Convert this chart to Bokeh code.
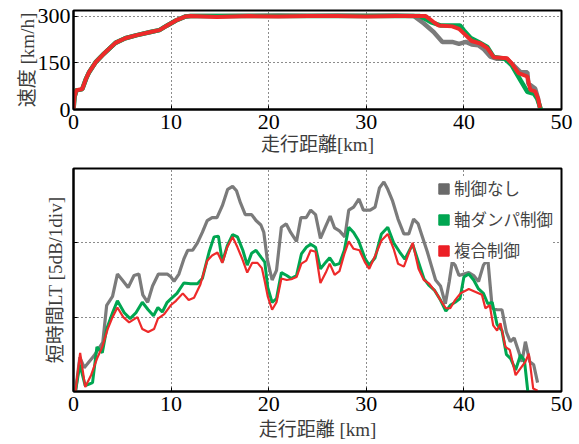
from bokeh.plotting import figure
from bokeh.layouts import column
from bokeh.models import FixedTicker, Legend, LegendItem, Range1d
from bokeh.embed import file_html
from bokeh.resources import INLINE

# ---------------- data: speed [km/h] vs distance [km] ----------------
spd_gray_km = [0, 0.1, 0.3, 0.9, 1.3, 1.6, 2.3, 3.1, 4.3, 5.3, 6.5, 7.9, 8.8, 9.6, 10.5, 11.5, 12.0,
               15, 18, 21, 24, 27, 30, 33, 34.9, 35.9, 36.9, 37.8, 38.8, 39.5, 40.2, 40.8, 41.5,
               42.0, 42.7, 43.4, 44.4, 44.9, 45.8, 46.5, 46.6, 47.3, 47.6, 47.8]
spd_gray = [0, 40, 62, 66, 100, 120, 153, 179, 214, 229, 239, 249, 255, 270, 286, 299, 300,
            300, 301, 302, 301, 302, 301, 302, 300, 276, 249, 217, 217, 211, 217, 209, 206,
            195, 170, 163, 163, 147, 120, 120, 83, 67, 35, 3]

spd_green_km = [0, 0.1, 0.3, 0.9, 1.3, 1.6, 2.3, 3.1, 4.3, 5.3, 6.5, 7.9, 8.8, 9.6, 10.5, 11.5, 12.0,
                15, 18, 21, 24, 27, 30, 33, 35.5, 36.6, 37.6, 39.6, 40.0, 40.7, 41.5, 42.4, 43.05,
                44.2, 44.9, 45.8, 46.5, 47.2, 47.5, 47.9]
spd_green = [0, 40, 62, 66, 100, 120, 153, 179, 214, 229, 239, 249, 255, 270, 286, 299, 300,
             300, 300, 300, 300, 300, 300, 300, 300, 281, 270, 270, 254, 230, 217, 201, 169,
             163, 142, 94, 57, 50, 35, 0]

spd_red_km = [0, 0.1, 0.3, 0.9, 1.3, 1.6, 2.3, 3.1, 4.3, 5.3, 6.5, 7.9, 8.8, 9.6, 10.5, 11.5, 12.0,
              14.7, 18, 21, 24, 27, 30, 33, 36.1, 36.9, 37.4, 38.8, 39.5, 40.2, 40.8, 41.7, 42.4,
              43.05, 44.4, 44.9, 45.6, 46.5, 46.8, 47.3, 47.6, 47.8]
spd_red = [0, 40, 62, 66, 100, 120, 153, 179, 214, 229, 239, 249, 255, 270, 286, 299, 300,
           297, 300, 299, 300, 300, 299, 300, 300, 281, 270, 267, 259, 238, 220, 212, 197,
           168, 165, 148, 117, 106, 63, 58, 35, 5]

# ---------------- data: short-time LT [dB] vs distance [km] ----------------
lt_gray_km = [0.2, 0.65, 1.1, 2.1, 3.0, 3.4, 4.0, 4.5, 5.0, 5.6, 6.2, 6.7, 7.1, 7.6, 8.1, 8.7, 9.6,
              10.0, 10.3, 10.8, 11.3, 11.7, 12.2, 12.7, 13.2, 13.7, 14.2, 14.7, 15.25, 15.8, 16.3,
              16.7, 17.1, 17.6, 18.25, 18.7, 19.2, 19.5, 19.85, 20.35, 20.8, 21.3, 21.8, 22.25,
              22.85, 23.3, 23.85, 24.3, 24.8, 25.3, 25.8, 26.3, 26.75, 27.25, 27.8, 28.2, 28.7,
              29.25, 29.7, 30.4, 30.9, 31.35, 31.8, 32.2, 32.7, 33.25, 33.85, 34.35, 34.85, 35.3,
              35.7, 36.25, 36.65, 37.1, 37.6, 38.1, 38.5, 38.8, 39.1, 39.5, 40.0, 40.5, 41.0,
              41.5, 42.0, 42.45, 42.9, 43.4, 43.9, 44.35, 44.75, 45.15, 45.6, 45.95, 46.3, 46.75,
              47.15, 47.55]
lt_gray = [0, 2.3, 1.6, 2.4, 3.3, 5.8, 6.4, 7.9, 7.5, 7.0, 7.8, 7.9, 6.5, 6.0, 7.1, 7.9, 7.9,
           7.7, 7.4, 7.9, 8.9, 9.5, 9.5, 10.0, 10.7, 11.5, 11.7, 11.7, 12.5, 13.6, 13.8,
           13.5, 12.7, 11.9, 11.9, 11.5, 11.2, 10.7, 8.9, 7.5, 8.15, 11.05, 11.27, 10.7,
           10.1, 11.7, 11.7, 12.2, 11.9, 10.3, 11.05, 11.8, 11.0, 10.8, 10.4, 12.2, 12.4,
           12.95, 12.2, 12.2, 12.4, 13.7, 14.1, 13.6, 12.8, 11.6, 10.6, 10.6, 11.6, 11.3,
           10.5, 9.4, 8.5, 7.5, 7.1, 5.9, 7.4, 8.7, 8.5, 7.8, 7.9, 8.0, 7.8,
           7.4, 8.5, 8.9, 5.6, 5.5, 5.5, 4.0, 3.35, 3.6, 2.7, 2.0, 3.35, 2.0,
           1.8, 0.6]

lt_green_km = [0.2, 0.65, 1.2, 1.6, 1.95, 2.4, 2.95, 3.4, 4.0, 4.5, 5.2, 5.8, 6.4, 7.05, 7.65, 8.2,
               8.65, 9.1, 9.6, 10.0, 10.6, 11.3, 12.0, 12.7, 13.2, 13.9, 14.4, 14.85, 15.25, 15.75,
               16.3, 16.8, 17.35, 17.8, 18.25, 18.7, 19.25, 19.6, 19.9, 20.35, 20.8, 21.3, 21.85,
               22.3, 22.85, 23.35, 23.85, 24.3, 24.8, 25.3, 25.85, 26.25, 26.75, 27.25, 27.75,
               28.2, 28.7, 29.2, 29.9, 30.3, 30.9, 31.55, 32.2, 32.8, 33.4, 33.95, 34.75, 35.35,
               35.9, 36.4, 37.0, 37.6, 38.15, 38.6, 39.1, 39.6, 40.0, 40.5, 41.0, 41.5, 42.0,
               42.45, 42.9, 43.4, 43.9, 44.35, 44.8, 45.3, 45.8, 46.2, 46.55]
lt_green = [0, 1.8, 0.4, 0.5, 0.6, 3.0, 2.6, 4.2, 5.3, 6.1, 5.3, 4.9, 5.3, 6.0, 5.5, 5.1,
            5.65, 5.35, 6.0, 6.25, 6.6, 7.3, 7.25, 7.25, 7.6, 9.4, 10.4, 10.45, 8.7, 9.8,
            10.55, 10.4, 9.5, 8.5, 9.3, 9.5, 9.0, 8.7, 7.0, 6.0, 6.25, 8.0, 7.8,
            7.6, 7.8, 9.25, 9.7, 9.9, 9.7, 8.25, 8.7, 9.0, 8.5, 8.6, 9.5,
            11.05, 10.7, 10.15, 8.9, 8.5, 9.0, 10.6, 11.05, 10.0, 9.4, 8.9, 9.9, 8.7,
            7.6, 7.15, 6.8, 6.15, 5.4, 5.8, 6.0, 6.25, 7.7, 7.9, 7.5, 6.9, 6.6,
            5.9, 6.0, 4.5, 4.1, 2.5, 2.2, 1.45, 2.45, 2.1, 0]

lt_red_km = [0.2, 0.68, 1.2, 1.8, 2.4, 2.95, 3.5, 4.0, 4.5, 5.1, 5.7, 6.55, 7.05, 7.65, 8.25, 8.65,
             9.3, 9.96, 10.5, 11.2, 11.8, 12.35, 13.0, 13.7, 14.2, 14.75, 15.25, 15.75, 16.3,
             16.8, 17.3, 17.8, 18.3, 18.85, 19.3, 19.6, 19.9, 20.35, 20.8, 21.3, 21.85, 22.3,
             22.85, 23.35, 23.85, 24.3, 24.8, 25.3, 25.85, 26.25, 26.75, 27.25, 27.75, 28.2,
             28.7, 29.3, 29.85, 30.3, 30.95, 31.55, 32.2, 32.8, 33.25, 33.85, 34.75, 35.35,
             35.9, 36.45, 37.1, 37.6, 38.15, 38.6, 39.1, 39.65, 40.5, 41.2, 41.85, 42.2, 42.65,
             43.0, 43.4, 43.75, 44.25, 44.7, 45.3, 45.8, 46.3, 46.65, 47.1, 47.55]
lt_red = [0, 2.6, 0.3, 1.1, 2.2, 3.0, 4.2, 5.0, 5.65, 5.0, 4.65, 5.0, 4.2, 4.0, 4.2, 4.9,
          5.2, 5.8, 6.1, 6.6, 6.15, 6.3, 7.2, 8.8, 9.15, 9.35, 8.65, 9.7, 10.4,
          9.7, 8.9, 8.0, 8.65, 8.65, 8.3, 7.4, 6.4, 5.5, 6.0, 7.6, 7.5, 7.55,
          7.7, 8.6, 8.8, 9.5, 9.4, 7.3, 8.0, 8.6, 7.85, 8.1, 9.25, 10.1,
          9.6, 9.5, 8.7, 8.25, 9.2, 10.15, 10.6, 9.6, 8.6, 8.4, 10.0, 8.25,
          7.5, 7.25, 6.7, 6.15, 5.6, 5.6, 6.15, 6.6, 6.9, 6.7, 6.5, 5.6, 5.8,
          4.45, 4.1, 4.6, 3.0, 2.8, 1.1, 1.55, 2.0, 2.55, 0.2, 0.05]

x_ticks = [0, 10, 20, 30, 40, 50]
speed_ticks = [0, 150, 300]
lt_ticks = [5, 10]
legend_labels = ["制御なし", "軸ダンパ制御", "複合制御"]

GRAY = "#7b7b7b"
GREEN = "#00a651"
RED = "#ee2a2a"
LEG_COLORS = ["#6a6a6a", "#00a651", "#ec1f26"]
TICK_FONT = "Liberation Serif"
LABEL_FONT = "Liberation Serif, Noto Sans CJK JP"
LABEL_COLOR = "#3c3c3c"
NAN = float("nan")


def style(p, yticks, show_ylabels=True):
    p.xaxis.ticker = FixedTicker(ticks=x_ticks)
    p.yaxis.ticker = FixedTicker(ticks=yticks)
    for ax in (p.xaxis[0], p.yaxis[0]):
        ax.axis_line_width = 2
        ax.axis_line_color = "black"
        ax.major_tick_in = 4
        ax.major_tick_out = 0
        ax.minor_tick_line_color = None
        ax.major_label_text_font = TICK_FONT
        ax.major_label_text_font_size = "22px"
        ax.major_label_text_color = "black"
        ax.axis_label_text_font = LABEL_FONT
        ax.axis_label_text_font_size = "19px"
        ax.axis_label_text_font_style = "normal"
        ax.axis_label_text_color = LABEL_COLOR
    p.xaxis.major_label_standoff = 5
    p.yaxis.major_label_standoff = 3
    if not show_ylabels:
        p.yaxis.major_label_overrides = {t: "" for t in yticks}
        p.yaxis.major_label_standoff = 0
    for g in (p.xgrid[0], p.ygrid[0]):
        g.grid_line_color = "black"
        g.grid_line_dash = "1 3"
        g.grid_line_width = 1
        g.grid_line_alpha = 0.9
    p.outline_line_color = "black"
    p.outline_line_width = 2
    p.outline_line_alpha = 1
    p.background_fill_color = "white"
    p.border_fill_color = "white"


# ---------------- top: speed ----------------
p1 = figure(width=579, height=164, output_backend="svg", toolbar_location=None,
            x_range=Range1d(0, 50), y_range=Range1d(0, 318),
            min_border_left=73, min_border_right=18, min_border_top=10, min_border_bottom=55)
style(p1, speed_ticks)
p1.xaxis.axis_label = "走行距離[km]"
p1.yaxis.axis_label = "速度 [km/h]"
p1.xaxis.axis_label_standoff = 2
p1.yaxis.axis_label_standoff = -3
p1.line(spd_gray_km, spd_gray, line_color=GRAY, line_width=4.5)
p1.line(spd_green_km, spd_green, line_color=GREEN, line_width=4.5)
p1.line(spd_red_km, spd_red, line_color=RED, line_width=4)

# ---------------- bottom: LT ----------------
p2 = figure(width=579, height=280, output_backend="svg", toolbar_location=None,
            x_range=Range1d(0, 50), y_range=Range1d(0, 15),
            min_border_left=73, min_border_right=18, min_border_top=4, min_border_bottom=53)
style(p2, lt_ticks, show_ylabels=False)
p2.xaxis.axis_label = "走行距離 [km]"
p2.yaxis.axis_label = "短時間LT [5dB/1div]"
p2.xaxis.axis_label_standoff = 5
p2.yaxis.axis_label_standoff = 8
p2.line(lt_gray_km, lt_gray, line_color=GRAY, line_width=3.2)
p2.line(lt_green_km, lt_green, line_color=GREEN, line_width=3)
p2.line(lt_red_km, lt_red, line_color=RED, line_width=2.2)

# legend swatches: invisible (NaN) quads, shown only in the legend as filled squares
leg_r = [p2.quad(left=[NAN], right=[NAN], top=[NAN], bottom=[NAN], fill_color=c, line_color=c)
         for c in LEG_COLORS]
legend = Legend(items=[LegendItem(label=l, renderers=[r]) for l, r in zip(legend_labels, leg_r)],
                location="top_right")
legend.margin = 8
legend.padding = 3
legend.spacing = 7
legend.label_height = 20
legend.glyph_width = 13
legend.glyph_height = 13
legend.label_standoff = 4
legend.label_text_font = "Noto Sans CJK JP"
legend.label_text_font_size = "16.5px"
legend.label_text_color = "#444444"
legend.border_line_color = None
legend.background_fill_color = "white"
legend.background_fill_alpha = 1
p2.add_layout(legend)

layout = column(p1, p2, spacing=0)
open("out.html", "w").write(file_html(layout, INLINE))
